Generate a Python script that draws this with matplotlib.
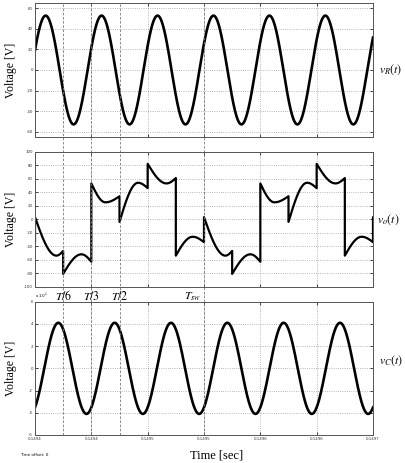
import numpy as np
import matplotlib
matplotlib.use('Agg')
import matplotlib.pyplot as plt

plt.rcParams['mathtext.fontset'] = 'stix'
plt.rcParams['font.family'] = ['Liberation Serif', 'DejaVu Serif']

t_start = 0.1494
t_end = 0.1497
x_ticks = [0.1494, 0.14945, 0.1495, 0.14955, 0.1496, 0.14965, 0.1497]
x_ticklabels = ['0.1494', '0.1494', '0.1495', '0.1495', '0.1496', '0.1496', '0.1497']

# v_R(t): sinusoid, amplitude / frequency / time of a peak
vR_amp = 53
vR_freq = 20140
vR_peak = 0.14940945

# v_C(t)  (x 10^4)
vC_amp = 4.1
vC_freq = 20000
vC_peak = 0.1494207

# v_o(t): six segments per switching period
T_sw = 1.5e-4
vo_start = [3, -81, 53, -4, 82, -54]
vo_ext = [-54, -52, 25, 54, 53, -26]
vo_end = [-47, -63, 34, 46, 61, -34]
vo_ext_pos = [0.76, 0.65, 0.5, 0.66, 0.67, 0.6]

marks = [T_sw / 6, T_sw / 3, T_sw / 2, T_sw]
mark_labels = ['$T/6$', '$T/3$', '$T/2$', '$T_{sw}$']

t = np.linspace(t_start, t_end, 1500)
vR = vR_amp * np.cos(2 * np.pi * vR_freq * (t - vR_peak))
vC = vC_amp * np.cos(2 * np.pi * vC_freq * (t - vC_peak))

seg = T_sw / 6
u = np.linspace(0, 1, 40)
vo_t, vo_v = [], []
for k in range(-1, 13):
    i = k % 6
    a = t_start + k * seg
    m = a + vo_ext_pos[i] * seg
    t1 = a + (m - a) * u
    v1 = vo_start[i] + (vo_ext[i] - vo_start[i]) * np.sin(np.pi / 2 * u)
    t2 = m + (a + seg - m) * u
    v2 = vo_ext[i] + (vo_end[i] - vo_ext[i]) * (1 - np.cos(np.pi / 2 * u))
    vo_t += list(t1) + list(t2[1:])
    vo_v += list(v1) + list(v2[1:])

W, H = 406, 463
fig = plt.figure(figsize=(W / 100, H / 100), dpi=100)


def px_axes(left, top, right, bottom):
    return fig.add_axes([left / W, 1 - bottom / H, (right - left) / W, (bottom - top) / H])


ax1 = px_axes(35, 3.3, 373, 136.7)
ax2 = px_axes(35, 151.7, 373, 286.7)
ax3 = px_axes(35, 301.7, 373, 435)


def style(ax, ylim, yticks):
    ax.set_xlim(t_start, t_end)
    ax.set_ylim(*ylim)
    ax.set_xticks(x_ticks)
    ax.set_yticks(yticks)
    ax.set_yticklabels([str(v) for v in yticks], fontsize=2.8, family='DejaVu Sans', color='#333333')
    ax.grid(True, ls=':', color='#a0a0a0', lw=0.6)
    ax.tick_params(direction='in', length=2.5, width=0.5, top=True, right=True, pad=1.5)
    for s in ax.spines.values():
        s.set_linewidth(0.7)
        s.set_color('#555555')
    ax.set_ylabel('Voltage [V]', fontsize=8.5)
    ax.yaxis.set_label_coords(-0.052, 0.5)


style(ax1, (-65, 65), [-60, -40, -20, 0, 20, 40, 60])
style(ax2, (-100, 100), [-100, -80, -60, -40, -20, 0, 20, 40, 60, 80, 100])
style(ax3, (-6, 6), [-6, -4, -2, 0, 2, 4, 6])

ax1.plot(t, vR, color='black', lw=1.9)
ax2.plot(vo_t, vo_v, color='black', lw=1.6)
ax3.plot(t, vC, color='black', lw=1.9)

ax1.set_xticklabels([])
ax2.set_xticklabels([])
ax3.set_xticklabels(x_ticklabels, fontsize=2.8, family='DejaVu Sans', color='#333333')

# dashed markers at T/6, T/3, T/2, T
for tm in marks:
    x = t_start + tm
    ax1.axvline(x, ymin=-0.056, ymax=1, color='#777777', ls=(0, (3, 2)), lw=0.6, clip_on=False)
    ax2.axvline(x, ymin=-0.055, ymax=1.056, color='#777777', ls=(0, (3, 2)), lw=0.6, clip_on=False)
    ax3.axvline(x, ymin=0, ymax=1.055, color='#777777', ls=(0, (3, 2)), lw=0.6, clip_on=False)

for tm, lab in zip(marks, mark_labels):
    x = t_start + tm
    if lab == '$T_{sw}$':
        ax3.text(x - 3e-6, 1.04, lab, transform=ax3.get_xaxis_transform(), ha='right', va='center', fontsize=8.5)
    else:
        ax3.text(x, 1.04, lab, transform=ax3.get_xaxis_transform(), ha='center', va='center', fontsize=8.5)

ax3.text(0.0, 1.04, r'x 10$^4$', transform=ax3.transAxes, fontsize=3, family='DejaVu Sans', va='center', ha='left')

ax1.text(1.018, 0.5, r'$v_R(t)$', transform=ax1.transAxes, fontsize=8.5, va='center')
ax2.text(1.012, 0.5, r'$v_o(t)$', transform=ax2.transAxes, fontsize=8.5, va='center')
ax3.text(1.018, 0.56, r'$v_C(t)$', transform=ax3.transAxes, fontsize=8.5, va='center')

fig.text(217 / W, 1 - 456 / H, 'Time [sec]', fontsize=9, ha='center', va='center')
fig.text(20 / W, 1 - 455 / H, 'Time offset: 0', fontsize=3, family='DejaVu Sans', ha='left', va='center')

fig.savefig('out.png', dpi=100)
